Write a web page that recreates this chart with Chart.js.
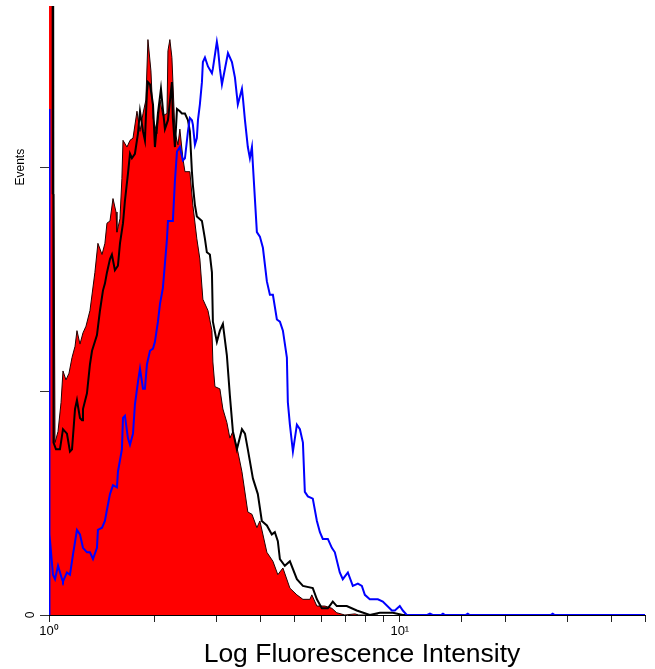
<!DOCTYPE html>
<html>
<head>
<meta charset="utf-8">
<script src="https://cdn.jsdelivr.net/npm/chart.js@4/dist/chart.umd.min.js"></script>
<style>
  body { margin: 0; background: #fff; }
  canvas { display: block; }
</style>
</head>
<body>
<canvas id="histogram" width="655" height="669"></canvas>
<script>
// channel numbers (1024 ch / 4 decades, 256 ch per decade) and event counts
const redChannel = [0, 2.2, 2.5, 3.6, 4.4, 6.6, 8.8, 10.2, 12.4, 14.6,
  16.8, 19.0, 20.4, 22.6, 24.8, 27.0, 29.9, 33.5, 35.7, 38.7,
  40.8, 42.3, 44.5, 46.7, 48.9, 49.6, 51.8, 53.2, 54.0, 56.9,
  59.1, 61.3, 64.2, 66.4, 68.6, 70.7, 72.2, 74.4, 75.9, 78.8,
  81.0, 83.1, 86.1, 86.8, 88.2, 89.7, 91.9, 94.1, 95.5, 97.7,
  99.2, 102.8, 105.0, 107.9, 110.1, 112.3, 116.0, 118.9, 119.6, 121.1,
  124.7, 126.9, 129.8, 132.0, 134.2, 137.8, 140.8, 145.1, 148.1, 151.7,
  153.9, 159.0, 163.4, 167.0, 170.7, 175.8, 180.9, 185.3, 190.4, 191.8,
  195.5, 201.3, 206.4, 210.0, 215.9, 223.2, 226, 240];
const redCount = [400, 400, 188, 188, 77, 82, 95, 109, 105, 108,
  115, 120, 127, 121, 126, 129, 136, 153, 166, 161,
  166, 175, 176, 186, 180, 171, 177, 195, 212, 209,
  212, 213, 225, 216, 224, 230, 257, 243, 222, 215,
  230, 223, 224, 252, 257, 249, 216, 210, 217, 204,
  198, 198, 183, 168, 159, 141, 136, 127, 113, 102,
  101, 92, 86, 79, 82, 73, 64, 46, 45, 39,
  42, 28, 24, 18, 21, 12, 9, 7, 7, 9,
  4, 4, 3, 1, 0, 0.5, 0, 0];

const blackChannel = [0, 2.9, 3.3, 5.1, 8.0, 10.2, 13.1, 15.3, 16.8, 19.0,
  20.4, 22.6, 24.1, 24.8, 27.7, 29.9, 31.4, 35.0, 37.2, 39.4,
  40.8, 42.3, 44.5, 45.9, 48.1, 50.3, 51.8, 54.0, 55.4, 57.6,
  59.1, 60.5, 62.7, 64.9, 66.4, 68.6, 70.0, 71.5, 72.2, 73.7,
  75.9, 77.3, 79.5, 81.7, 83.1, 84.6, 86.8, 89.7, 90.4, 91.9,
  93.4, 95.5, 97.0, 99.2, 101.4, 102.8, 104.3, 105.0, 106.5, 107.9,
  111.6, 113.8, 115.2, 117.4, 118.9, 119.6, 122.5, 124.7, 126.9, 129.8,
  132.0, 134.2, 137.1, 140.8, 143.0, 145.1, 148.8, 152.4, 155.3, 159.0,
  162.6, 164.8, 167.0, 168.5, 172.1, 175.8, 180.9, 185.3, 192.5, 195.5,
  199.1, 203.5, 207.1, 210.0, 217.3, 224.6, 234.1, 241.4, 250.9, 258.2,
  280];
const blackCount = [400, 400, 77, 74, 74, 83, 81, 73, 74, 92,
  96, 88, 87, 92, 99, 112, 118, 125, 136, 145,
  148, 153, 159, 161, 154, 156, 166, 175, 185, 197,
  206, 204, 206, 215, 225, 216, 212, 234, 238, 237,
  228, 209, 224, 235, 226, 217, 221, 238, 222, 209,
  226, 225, 224, 224, 221, 216, 198, 192, 183, 178,
  176, 168, 162, 161, 153, 131, 122, 127, 130, 116,
  98, 82, 74, 83, 81, 74, 61, 54, 42, 40,
  36, 37, 33, 25, 22, 24, 16, 13, 12, 7,
  3, 3, 6, 4, 4, 2, 0, 1, 1, 0,
  0];

const blueChannel = [0, 0, 0.7, 2.9, 4.4, 6.6, 9.5, 10.2, 13.1, 15.3,
  17.5, 20.4, 22.6, 24.8, 27.7, 29.9, 32.1, 35.0, 35.7, 38.7,
  40.8, 42.3, 44.5, 46.7, 49.6, 50.3, 53.2, 54.0, 55.4, 57.6,
  59.1, 61.3, 62.7, 64.9, 66.4, 68.6, 70.0, 71.5, 73.7, 75.9,
  77.3, 79.5, 81.0, 83.1, 86.1, 86.8, 90.4, 91.9, 93.4, 95.5,
  97.7, 99.2, 101.4, 102.8, 104.3, 105.0, 106.5, 107.9, 108.7, 110.1,
  111.6, 112.3, 113.8, 116.0, 118.9, 119.6, 122.5, 123.3, 124.7, 126.2,
  128.4, 130.6, 133.5, 135.7, 137.8, 140.8, 141.5, 143.0, 145.1, 146.6,
  148.1, 148.8, 151.7, 153.9, 156.1, 159.0, 161.2, 163.4, 166.3, 168.5,
  170.7, 173.6, 174.3, 175.8, 178.0, 180.9, 183.1, 185.3, 186.7, 188.9,
  192.5, 195.5, 197.7, 199.8, 203.5, 206.4, 208.6, 212.2, 214.4, 218.1,
  221.7, 225.4, 228.3, 230.5, 234.1, 240.0, 243.6, 250.2, 252.4, 256.0,
  258.2, 261.1, 276, 278, 280, 286, 287.5, 289, 304, 305.6,
  307, 366, 367.6, 369, 435];
const blueCount = [0, 226, 36, 18, 16, 22, 16, 15, 19, 18,
  27, 38, 36, 30, 28, 28, 25, 30, 38, 39,
  42, 47, 54, 58, 57, 64, 74, 88, 89, 79,
  76, 81, 94, 104, 110, 101, 101, 112, 118, 119,
  122, 131, 139, 146, 168, 176, 176, 194, 207, 209,
  203, 204, 216, 222, 221, 219, 210, 213, 221, 228,
  238, 247, 249, 245, 242, 244, 256, 253, 244, 237,
  244, 251, 247, 240, 228, 235, 231, 221, 209, 204,
  209, 201, 171, 169, 164, 149, 143, 143, 132, 131,
  127, 115, 95, 85, 73, 85, 83, 77, 55, 53,
  52, 42, 37, 34, 34, 30, 28, 19, 16, 19,
  13, 14, 13, 9, 7, 7, 6, 2, 2, 4,
  2, 0, 0, 0.6, 0, 0, 0.6, 0, 0, 0.6,
  0, 0, 0.6, 0, 0];

const yTickValues = [0, 100, 200];
const yTickLabels = ['0', '', 'Events'];
const xTickLabels = { 1: '10\u2070', 10: '10\u00b9' };
const xTitle = 'Log Fluorescence Intensity';

const FONT = '"Liberation Sans", Arial, sans-serif';

function toPoints(channels, counts) {
  return channels.map((ch, i) => ({ x: Math.pow(10, ch / 256), y: counts[i] }));
}

const axisText = {
  id: 'axisText',
  afterDraw(chart) {
    const ctx = chart.ctx;
    const yScale = chart.scales.y;
    ctx.save();
    ctx.fillStyle = '#000';
    ctx.font = '12px ' + FONT;
    ctx.textAlign = 'center';
    ctx.textBaseline = 'middle';
    const xs = [31, 0, 20.5];
    yTickValues.forEach((v, i) => {
      if (!yTickLabels[i]) return;
      ctx.save();
      ctx.translate(xs[i], yScale.getPixelForValue(v));
      ctx.rotate(-Math.PI / 2);
      ctx.fillText(yTickLabels[i], 0, 0);
      ctx.restore();
    });
    ctx.font = '26.5px ' + FONT;
    ctx.textBaseline = 'alphabetic';
    ctx.fillText(xTitle, 362, 662);
    ctx.restore();
  }
};

new Chart(document.getElementById('histogram'), {
  type: 'line',
  data: {
    datasets: [
      {
        label: 'control',
        data: toPoints(redChannel, redCount),
        fill: 'origin',
        backgroundColor: '#ff0000',
        borderColor: '#200000',
        borderWidth: 1,
        order: 3,
      },
      {
        label: 'isotype',
        data: toPoints(blackChannel, blackCount),
        fill: false,
        borderColor: '#000000',
        borderWidth: 2,
        order: 2,
      },
      {
        label: 'stained',
        data: toPoints(blueChannel, blueCount),
        fill: false,
        borderColor: '#0000ff',
        borderWidth: 2,
        order: 1,
      },
    ],
  },
  options: {
    responsive: false,
    animation: false,
    events: [],
    elements: {
      point: { radius: 0 },
      line: { tension: 0 },
    },
    layout: { padding: { top: 6, right: 10, left: 0, bottom: 0 } },
    plugins: {
      legend: { display: false },
      tooltip: { enabled: false },
    },
    scales: {
      x: {
        type: 'logarithmic',
        min: 1,
        max: 50,
        afterFit: (s) => { s.height = 54; },
        border: { display: true, color: '#000', width: 1 },
        grid: { drawOnChartArea: false, drawTicks: true, tickLength: 7, color: '#222' },
        ticks: {
          autoSkip: false,
          maxRotation: 0,
          padding: 2,
          color: '#000',
          font: { family: FONT, size: 13 },
          callback: (value) => xTickLabels[value] || '',
        },
      },
      y: {
        type: 'linear',
        min: 0,
        max: 272,
        afterFit: (s) => { s.width = 49; },
        border: { display: true, color: '#000', width: 1 },
        grid: { drawOnChartArea: false, drawTicks: true, tickLength: 9, color: '#333' },
        ticks: {
          stepSize: 100,
          includeBounds: false,
          display: false,
        },
      },
    },
  },
  plugins: [axisText],
});
</script>
</body>
</html>
